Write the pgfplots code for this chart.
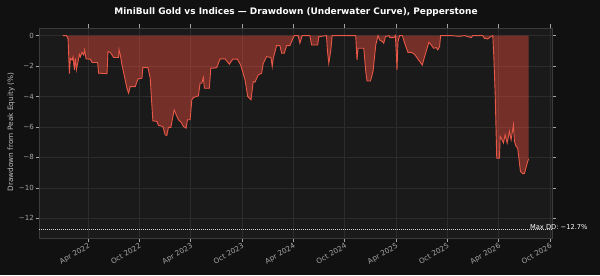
\documentclass[border=0pt]{standalone}
\usepackage{pgfplots}
\pgfplotsset{compat=1.18}
\usepackage{pgfplotstable}
\usepackage{fontspec}
\setmainfont{DejaVu Sans}
\definecolor{bgout}{RGB}{17,17,17}
\definecolor{bgax}{RGB}{26,26,26}
\definecolor{gridc}{RGB}{44,44,44}
\definecolor{framec}{RGB}{60,60,60}
\definecolor{tickc}{RGB}{165,165,165}
\definecolor{labc}{RGB}{190,190,190}
\definecolor{ddline}{RGB}{232,88,72}
\definecolor{ddfill}{RGB}{231,76,60}
\pgfplotstableread{
m dd
0.04 0
0.47 0
0.67 -0.2
0.82 -2.5
0.94 -1.5
1.13 -1.6
1.25 -1.4
1.40 -2.25
1.52 -1.5
1.64 -2.25
1.83 -1.7
1.99 -1.23
2.10 -1.4
2.30 -1.1
2.49 -1.27
2.60 -0.94
2.77 -1.53
3.27 -1.55
3.47 -1.77
4.12 -1.77
4.24 -2.47
5.22 -2.5
5.33 -1.05
5.60 -1.1
5.99 -1.44
6.57 -1.44
6.62 -0.92
6.77 -1.27
6.97 -1.93
7.55 -3.46
7.74 -3.78
7.93 -3.35
8.52 -3.35
8.83 -2.85
9.30 -2.8
9.41 -2.1
10.00 -2.1
10.27 -2.8
10.46 -4.55
10.58 -5.6
11.05 -5.64
11.23 -5.9
11.75 -5.97
12.02 -6.52
12.21 -6.56
12.40 -6.03
12.68 -6.03
13.07 -4.88
13.30 -5.2
13.57 -5.53
13.96 -5.75
14.15 -5.97
14.46 -6.08
14.62 -5.53
14.93 -5.53
15.13 -4.22
15.32 -4.07
15.90 -3.96
16.10 -3.13
16.30 -3.13
16.48 -2.75
16.60 -3.46
17.18 -3.46
17.35 -2.14
17.65 -2.14
18.05 -2.1
18.43 -1.53
19.01 -1.53
19.52 -1.88
19.91 -1.55
20.45 -1.55
20.84 -1.93
21.35 -2.91
21.66 -4.0
22.05 -4.22
22.31 -3.02
22.51 -3.06
22.90 -2.58
23.29 -2.47
23.48 -1.82
23.88 -1.38
24.38 -1.44
24.53 -2.03
24.65 -1.49
25.04 -0.66
25.43 -0.66
25.63 -1.16
25.93 -1.16
26.21 -0.66
26.59 -0.66
26.79 -0.39
27.10 0
27.56 0
27.76 -0.5
28.03 0
28.93 0
29.13 -0.62
29.83 -0.62
29.98 -0.07
30.87 0
30.99 -1.05
31.14 -1.82
31.38 -0.94
31.53 0
34.29 0
34.44 -1.6
34.56 -0.83
35.23 -0.83
35.46 -2.36
35.61 -2.98
36.01 -2.98
36.31 -2.36
36.63 -0.62
36.89 0
37.09 -0.29
37.41 -0.39
37.56 -0.5
37.76 -0.07
38.18 0
38.26 -0.13
38.76 -0.13
38.92 0
39.04 -1.27
39.11 -2.26
39.23 -0.39
39.42 0
39.74 0
40.01 -0.5
40.39 -1.1
40.79 -1.1
41.17 -1.23
41.76 -1.7
42.07 -1.93
42.34 -1.38
42.84 -0.44
43.12 -0.62
43.39 -0.83
43.70 -0.79
43.89 -0.94
44.09 -0.72
44.21 0
45.45 0
46.42 -0.05
47.00 0
47.79 -0.13
47.97 0
49.14 0
49.34 -0.18
49.72 -0.22
50.04 -0.07
50.31 0
50.42 -1.27
50.59 -3.9
50.77 -8.05
51.09 -8.05
51.17 -6.62
51.40 -6.85
51.55 -7.06
51.75 -6.52
51.99 -7.06
52.25 -6.3
52.45 -6.85
52.72 -5.86
52.84 -6.95
53.03 -7.28
53.22 -7.39
53.54 -8.92
53.80 -9.07
54.00 -9.07
54.39 -8.26
54.50 -8.1
}\ddtable
\begin{document}
\begin{tikzpicture}[x=1bp,y=1bp]
\path[use as bounding box, fill=bgout] (0,0) rectangle (600,275);
\begin{axis}[
  at={(39bp,37bp)}, anchor=south west,
  width=513bp, height=210bp, scale only axis,
  xmin=-2.73, xmax=57.23, ymin=-13.3, ymax=0.5,
  axis background/.style={fill=bgax},
  axis line style={framec, line width=0.6bp},
  grid=major, major grid style={gridc, line width=0.5bp},
  tick align=outside, major tick length=3.5bp,
  tick style={tickc, line width=0.5bp},
  xtick={3,9,15,21,27,33,39,45,51,57},
  xticklabels={Apr 2022,Oct 2022,Apr 2023,Oct 2023,Apr 2024,Oct 2024,Apr 2025,Oct 2025,Apr 2026,Oct 2026},
  ytick={0,-2,-4,-6,-8,-10,-12},
  yticklabels={0,−2,−4,−6,−8,−10,−12},
  xticklabel style={font=\fontsize{7.3}{8}\selectfont, color=tickc, rotate=30, anchor=north east, inner sep=0.8bp},
  yticklabel style={font=\fontsize{7.1}{8}\selectfont, color=tickc, inner sep=1.5bp},
  clip=false,
]
\addplot[draw=none, fill=ddfill, fill opacity=0.44] table[x=m,y=dd] {\ddtable} -- (axis cs:54.5,0) -- (axis cs:0.04,0) -- cycle;
\addplot[ddline, line width=0.9bp] table[x=m,y=dd] {\ddtable};
\addplot[color={rgb,255:red,210;green,210;blue,210}, line width=0.7bp, dash pattern=on 0.8bp off 1.2bp] coordinates {(-2.73,-12.7) (57.23,-12.7)};
\node[anchor=west, font=\fontsize{6.7}{7}\selectfont, text=white, inner sep=0pt] at (axis cs:54.65,-12.55) {Max DD: −12.7\%};
\end{axis}
\node[font=\fontsize{9}{10}\bfseries\selectfont, text=white] at (296,263) {MiniBull Gold vs Indices — Drawdown (Underwater Curve), Pepperstone};
\node[rotate=90, font=\fontsize{7.4}{8}\selectfont, text=labc] at (11,143) {Drawdown from Peak Equity (\%)};
\end{tikzpicture}
\end{document}
